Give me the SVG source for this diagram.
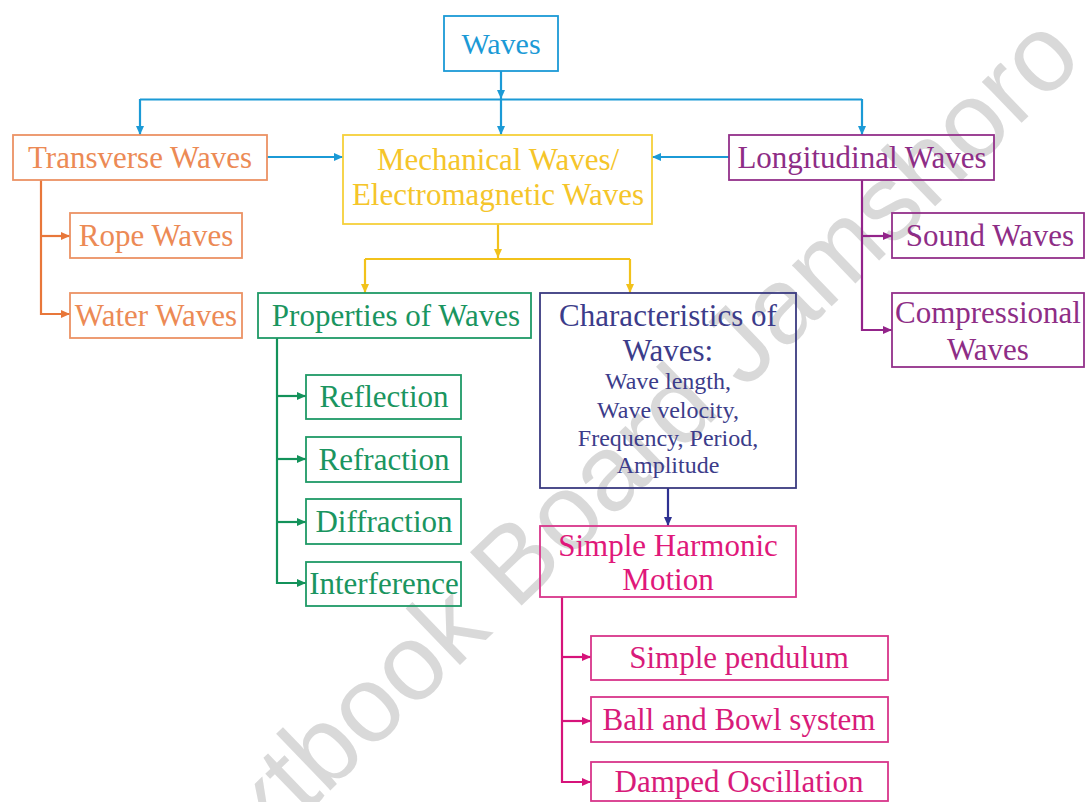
<svg xmlns="http://www.w3.org/2000/svg" width="1086" height="802" viewBox="0 0 1086 802">
<style>
text{font-family:"Liberation Serif","Times New Roman",serif;font-size:31px;text-anchor:middle}
.box{fill:none;stroke-width:1.8}
.wm{font-family:"Liberation Sans",Arial,sans-serif;font-size:108px;fill:#cccccc;fill-opacity:0.75;text-anchor:middle}
.c{fill:none;stroke-width:2.2}
.sub{font-size:24px}
</style>
<defs>
<marker id="aBlue" markerUnits="userSpaceOnUse" markerWidth="9" markerHeight="8" refX="9" refY="4" orient="auto"><path d="M0,0 L9,4 L0,8 z" fill="#1b9ad6"/></marker>
<marker id="aOrange" markerUnits="userSpaceOnUse" markerWidth="9" markerHeight="8" refX="9" refY="4" orient="auto"><path d="M0,0 L9,4 L0,8 z" fill="#e8773a"/></marker>
<marker id="aYellow" markerUnits="userSpaceOnUse" markerWidth="9" markerHeight="8" refX="9" refY="4" orient="auto"><path d="M0,0 L9,4 L0,8 z" fill="#f2c21b"/></marker>
<marker id="aPurple" markerUnits="userSpaceOnUse" markerWidth="9" markerHeight="8" refX="9" refY="4" orient="auto"><path d="M0,0 L9,4 L0,8 z" fill="#93248a"/></marker>
<marker id="aGreen" markerUnits="userSpaceOnUse" markerWidth="9" markerHeight="8" refX="9" refY="4" orient="auto"><path d="M0,0 L9,4 L0,8 z" fill="#13925a"/></marker>
<marker id="aNavy" markerUnits="userSpaceOnUse" markerWidth="9" markerHeight="8" refX="9" refY="4" orient="auto"><path d="M0,0 L9,4 L0,8 z" fill="#2e3192"/></marker>
<marker id="aMag" markerUnits="userSpaceOnUse" markerWidth="9" markerHeight="8" refX="9" refY="4" orient="auto"><path d="M0,0 L9,4 L0,8 z" fill="#d6137a"/></marker>
</defs>
<rect width="1086" height="802" fill="#ffffff"/>
<text class="wm" x="634" y="497" transform="rotate(-44 634 497)">Textbook Board Jamshoro</text>

<g id="connectors">
<g stroke="#1b9ad6" class="c" stroke-width="2.6">
<path d="M501,71 V99" marker-end="url(#aBlue)"/>
<path d="M140,99.5 H862"/>
<path d="M140,99 V135" marker-end="url(#aBlue)"/>
<path d="M501,99 V135" marker-end="url(#aBlue)"/>
<path d="M862,99 V135" marker-end="url(#aBlue)"/>
<path d="M267,157 H343" marker-end="url(#aBlue)"/>
<path d="M729,157 H652" marker-end="url(#aBlue)"/>
</g>
<g stroke="#e8773a" class="c">
<path d="M41,180 V314 H70" marker-end="url(#aOrange)"/>
<path d="M41,236 H70" marker-end="url(#aOrange)"/>
</g>
<g stroke="#f2c21b" class="c">
<path d="M498,224 V258" marker-end="url(#aYellow)"/>
<path d="M365,259 H630"/>
<path d="M365,259 V293" marker-end="url(#aYellow)"/>
<path d="M630,259 V293" marker-end="url(#aYellow)"/>
</g>
<g stroke="#93248a" class="c">
<path d="M862,180 V330 H892" marker-end="url(#aPurple)"/>
<path d="M862,236 H892" marker-end="url(#aPurple)"/>
</g>
<g stroke="#13925a" class="c">
<path d="M277,338 V583 H306" marker-end="url(#aGreen)"/>
<path d="M277,396 H306" marker-end="url(#aGreen)"/>
<path d="M277,459 H306" marker-end="url(#aGreen)"/>
<path d="M277,522 H306" marker-end="url(#aGreen)"/>
</g>
<g stroke="#2e3192" class="c">
<path d="M668,488 V526" marker-end="url(#aNavy)"/>
</g>
<g stroke="#d6137a" class="c">
<path d="M562,597 V782 H591" marker-end="url(#aMag)"/>
<path d="M562,657 H591" marker-end="url(#aMag)"/>
<path d="M562,721 H591" marker-end="url(#aMag)"/>
</g>
</g>

<g id="waves"><rect class="box" x="444" y="16" width="114" height="55" stroke="#1b9ad6"/><text x="501" y="54" fill="#1b9ad6" style="font-size:30px">Waves</text></g>
<g id="transverse"><rect class="box" x="13" y="135" width="254" height="45" stroke="#ec9264"/><text x="140" y="168" fill="#ec8a55">Transverse Waves</text></g>
<g id="mechanical"><rect class="box" x="343" y="135" width="309" height="89" stroke="#f5d03a"/><text x="498" y="170" fill="#f5c52a">Mechanical Waves/</text><text x="498" y="205" fill="#f5c52a">Electromagnetic Waves</text></g>
<g id="longitudinal"><rect class="box" x="729" y="135" width="265" height="45" stroke="#93308a"/><text x="862" y="168" fill="#8e2d86">Longitudinal Waves</text></g>
<g id="rope"><rect class="box" x="70" y="213" width="172" height="45" stroke="#ec9264"/><text x="156" y="246" fill="#ec8a55">Rope Waves</text></g>
<g id="water"><rect class="box" x="70" y="293" width="172" height="45" stroke="#ec9264"/><text x="156" y="326" fill="#ec8a55">Water Waves</text></g>
<g id="sound"><rect class="box" x="892" y="213" width="192" height="45" stroke="#93308a"/><text x="990" y="246" fill="#8e2d86">Sound Waves</text></g>
<g id="compressional"><rect class="box" x="892" y="293" width="192" height="74" stroke="#93308a"/><text x="988" y="323" fill="#8e2d86">Compressional</text><text x="988" y="360" fill="#8e2d86">Waves</text></g>
<g id="properties"><rect class="box" x="258" y="293" width="273" height="45" stroke="#1f9a66"/><text x="396" y="326" fill="#1a9560">Properties of Waves</text></g>
<g id="reflection"><rect class="box" x="306" y="375" width="155" height="44" stroke="#1f9a66"/><text x="384" y="407" fill="#1a9560">Reflection</text></g>
<g id="refraction"><rect class="box" x="306" y="437" width="155" height="45" stroke="#1f9a66"/><text x="384" y="470" fill="#1a9560">Refraction</text></g>
<g id="diffraction"><rect class="box" x="306" y="499" width="155" height="45" stroke="#1f9a66"/><text x="384" y="532" fill="#1a9560">Diffraction</text></g>
<g id="interference"><rect class="box" x="306" y="562" width="155" height="44" stroke="#1f9a66"/><text x="384" y="594" fill="#1a9560">Interference</text></g>
<g id="characteristics"><rect class="box" x="540" y="293" width="256" height="195" stroke="#3a3a80"/>
<text x="668" y="326" fill="#3c3c8a">Characteristics of</text>
<text x="668" y="361" fill="#3c3c8a">Waves:</text>
<text class="sub" x="668" y="389" fill="#3c3c8a">Wave length,</text>
<text class="sub" x="668" y="418" fill="#3c3c8a">Wave velocity,</text>
<text class="sub" x="668" y="446" fill="#3c3c8a">Frequency, Period,</text>
<text class="sub" x="668" y="473" fill="#3c3c8a">Amplitude</text></g>
<g id="shm"><rect class="box" x="540" y="526" width="256" height="71" stroke="#d8358a"/><text x="668" y="556" fill="#e0187a">Simple Harmonic</text><text x="668" y="590" fill="#e0187a">Motion</text></g>
<g id="pendulum"><rect class="box" x="591" y="636" width="297" height="44" stroke="#d8358a"/><text x="739" y="668" fill="#d81b7a">Simple pendulum</text></g>
<g id="ballbowl"><rect class="box" x="591" y="697" width="297" height="45" stroke="#d8358a"/><text x="739" y="730" fill="#d81b7a">Ball and Bowl system</text></g>
<g id="damped"><rect class="box" x="591" y="762" width="297" height="39" stroke="#d8358a"/><text x="739" y="792" fill="#d81b7a">Damped Oscillation</text></g>
</svg>
